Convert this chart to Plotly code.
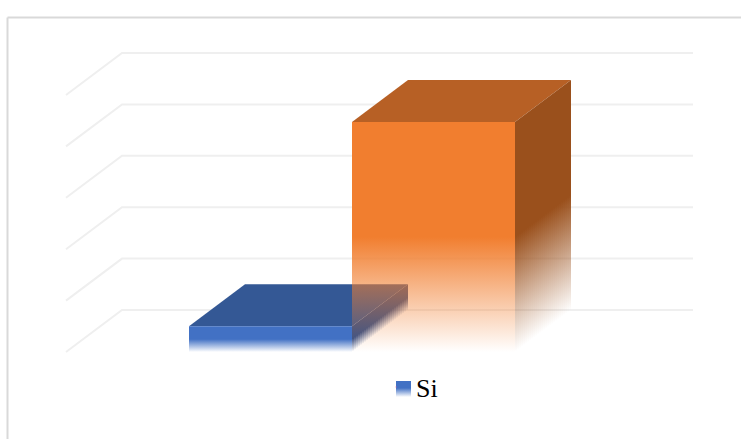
import plotly.graph_objects as go

# Data
categories = ["No", "Si"]
values = [10, 89.5]
grid_values = [0, 20, 40, 60, 80, 100]
legend_label = "Si"

# Pseudo-3D projection, in axis units
BAR_WIDTH = 1.0
DEPTH_X = 56 / 163
DEPTH_Y = 42 / 2.57
FLOOR_LEFT = -1.2546
BACK_RIGHT = 2.592

FACE = {
    "No": dict(front=(66, 113, 196), top=(52, 88, 149), side=(47, 80, 140)),
    "Si": dict(front=(241, 126, 47), top=(183, 96, 37), side=(154, 80, 28)),
}
GRID = "#efefef"
FADE_FRACTION = 0.5
STRIPS = 28


def rgba(c, a):
    return f"rgba({c[0]},{c[1]},{c[2]},{a})"


fig = go.Figure()


def solid(xs, ys, color):
    fig.add_trace(go.Scatter(x=xs, y=ys, mode="none", fill="toself",
                             fillcolor=color, showlegend=False, hoverinfo="skip"))


def faded(xs, ys, color, lo, hi):
    fig.add_trace(go.Scatter(
        x=xs, y=ys, mode="none", fill="toself", showlegend=False, hoverinfo="skip",
        fillgradient=dict(type="vertical", start=lo, stop=hi,
                          colorscale=[[0, rgba(color, 0)], [1, rgba(color, 1)]]),
    ))


# Gridlines on the floor wall and back wall
for g in grid_values:
    fig.add_trace(go.Scatter(
        x=[FLOOR_LEFT, FLOOR_LEFT + DEPTH_X, BACK_RIGHT],
        y=[g, g + DEPTH_Y, g + DEPTH_Y],
        mode="lines", line=dict(color=GRID, width=2),
        showlegend=False, hoverinfo="skip",
    ))

# Bars, first category behind the second
for i, (cat, v) in enumerate(zip(categories, values)):
    c = FACE[cat]
    x0 = i - BAR_WIDTH / 2
    x1 = i + BAR_WIDTH / 2
    fade_top = v * FADE_FRACTION

    solid([x0, x0 + DEPTH_X, x1 + DEPTH_X, x1, x0],
          [v, v + DEPTH_Y, v + DEPTH_Y, v, v], rgba(c["top"], 1))

    for s in range(STRIPS):
        t0, t1 = s / STRIPS, (s + 1) / STRIPS
        xa = x1 + DEPTH_X * t0
        xb = x1 + DEPTH_X * t1
        ya = DEPTH_Y * t0
        yb = DEPTH_Y * t1
        mid = (ya + yb) / 2
        faded([xa, xb, xb, xa, xa],
              [ya, yb, v + yb, v + ya, ya],
              c["side"], mid, mid + fade_top)

    faded([x0, x1, x1, x0, x0], [0, 0, v, v, 0], c["front"], 0, fade_top)

# Legend entry text
fig.add_trace(go.Scatter(
    x=[None], y=[None], mode="markers", name=legend_label,
    marker=dict(symbol="square", size=1, opacity=0),
))
# Legend key
c = FACE["No"]["front"]
KEY_X0, KEY_X1 = (396 - 270.5) / 163, (411 - 270.5) / 163
KEY_Y0, KEY_Y1 = (352 - 397) / 2.57, (352 - 381) / 2.57
faded([KEY_X0, KEY_X1, KEY_X1, KEY_X0, KEY_X0],
      [KEY_Y0, KEY_Y0, KEY_Y1, KEY_Y1, KEY_Y0], c, KEY_Y0, KEY_Y0 + 9 / 2.57)

fig.update_layout(
    width=741, height=439,
    margin=dict(l=0, r=0, t=0, b=0),
    paper_bgcolor="white", plot_bgcolor="white",
    xaxis=dict(range=[-270.5 / 163, (741 - 270.5) / 163], visible=False, fixedrange=True),
    yaxis=dict(range=[(352 - 439) / 2.57, 352 / 2.57], visible=False, fixedrange=True),
    showlegend=True,
    legend=dict(x=376 / 741, y=1 - 387 / 439, xanchor="left", yanchor="middle",
                bgcolor="rgba(0,0,0,0)", itemwidth=30,
                font=dict(family="Liberation Serif", size=26, color="#000000")),
    shapes=[
        dict(type="line", xref="paper", yref="paper", x0=7.5 / 741, x1=1,
             y0=1 - 17.5 / 439, y1=1 - 17.5 / 439, line=dict(color="#d9d9d9", width=2)),
        dict(type="line", xref="paper", yref="paper", x0=7.5 / 741, x1=7.5 / 741,
             y0=0, y1=1 - 17.5 / 439, line=dict(color="#d9d9d9", width=2)),
    ],
)

fig.write_html("out.html", config={"displayModeBar": False},
               post_script="document.body.style.margin='0';document.documentElement.style.overflow='hidden';")
